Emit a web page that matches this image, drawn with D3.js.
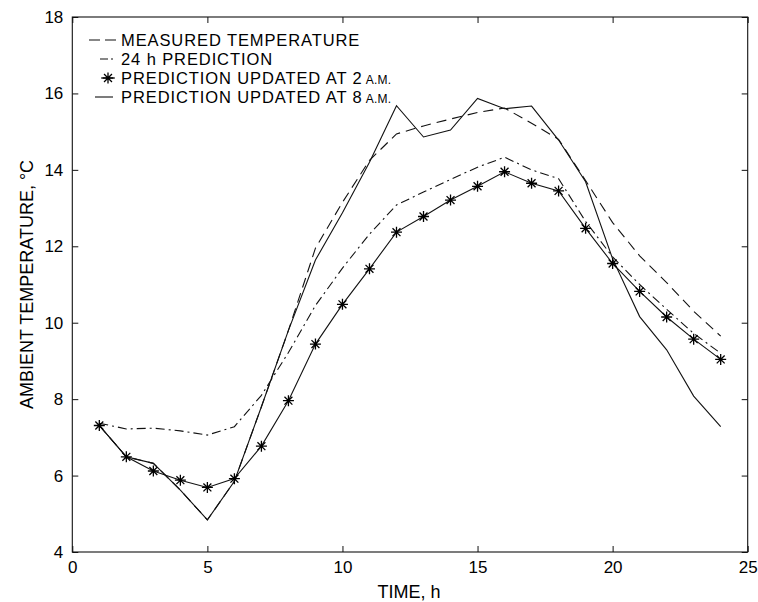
<!DOCTYPE html>
<html>
<head>
<meta charset="utf-8">
<script src="https://cdn.jsdelivr.net/npm/d3@7"></script>
<style>
  html, body { margin: 0; padding: 0; background: #fff; }
  svg { display: block; font-family: "Liberation Sans", Arial, Helvetica, sans-serif; }
</style>
</head>
<body>
<svg id="chart" width="758" height="602"></svg>
<script>
// ---- data ----
const hours = [1,2,3,4,5,6,7,8,9,10,11,12,13,14,15,16,17,18,19,20,21,22,23,24];
const measured = [7.31,6.49,6.32,5.62,4.84,5.85,7.8,9.8,11.95,13.15,14.25,14.94,15.15,15.33,15.5,15.62,15.22,14.8,13.72,12.62,11.75,11.05,10.3,9.65];
const pred24h = [7.37,7.22,7.24,7.17,7.06,7.28,8.1,9.22,10.45,11.43,12.32,13.08,13.42,13.75,14.07,14.33,14.0,13.77,12.65,11.72,11.0,10.35,9.72,9.2];
const upd2am = [7.31,6.49,6.12,5.88,5.69,5.92,6.77,7.96,9.44,10.48,11.41,12.37,12.78,13.21,13.57,13.95,13.65,13.45,12.47,11.55,10.82,10.15,9.57,9.04];
const upd8am = [7.31,6.49,6.32,5.62,4.84,5.85,7.8,9.8,11.64,12.88,14.2,15.68,14.86,15.04,15.87,15.6,15.67,14.78,13.69,11.67,10.16,9.29,8.08,7.28];
const xTicks = [0,5,10,15,20,25];
const yTicks = [4,6,8,10,12,14,16,18];
const legendLabels = ["MEASURED TEMPERATURE","24 h PREDICTION","PREDICTION UPDATED AT 2","PREDICTION UPDATED AT 8"];
const xTitle = "TIME, h";
const yTitle = "AMBIENT TEMPERATURE, °C";

// ---- layout ----
const svg = d3.select("#chart");
const L = 72.3, R = 747.7, T = 17, B = 552;
const x = d3.scaleLinear().domain([0,25]).range([L,R]);
const y = d3.scaleLinear().domain([4,18]).range([B,T]);
const ink = "#111";
const fs = 17;

// axes (ticks inside)
function styleAxis(g){
  g.select(".domain").remove();
  g.selectAll(".tick line").attr("stroke", ink).attr("stroke-width", 1);
  g.selectAll(".tick text").attr("fill", "#000").style("font-size", fs+"px")
   .style("font-family", '"Liberation Sans", Arial, sans-serif');
}
svg.append("g").attr("transform",`translate(0,${B})`)
  .call(d3.axisBottom(x).tickValues(xTicks).tickFormat(d3.format("d")).tickSizeInner(-6).tickSizeOuter(0).tickPadding(9))
  .call(styleAxis);
svg.append("g").attr("transform",`translate(0,${T})`)
  .call(d3.axisTop(x).tickValues(xTicks).tickFormat("").tickSizeInner(-6).tickSizeOuter(0))
  .call(styleAxis);
svg.append("g").attr("transform",`translate(${L},0)`)
  .call(d3.axisLeft(y).tickValues(yTicks).tickFormat(d3.format("d")).tickSizeInner(-6).tickSizeOuter(0).tickPadding(9))
  .call(styleAxis);
svg.append("g").attr("transform",`translate(${R},0)`)
  .call(d3.axisRight(y).tickValues(yTicks).tickFormat("").tickSizeInner(-6).tickSizeOuter(0))
  .call(styleAxis);

// frame
svg.append("rect").attr("x",L).attr("y",T).attr("width",R-L).attr("height",B-T)
  .attr("fill","none").attr("stroke",ink).attr("stroke-width",1.1);

// titles
svg.append("text").attr("x",409).attr("y",598).attr("text-anchor","middle")
  .style("font-size","18px").text(xTitle);
svg.append("text").attr("transform",`translate(33,${(T+B)/2}) rotate(-90)`).attr("text-anchor","middle")
  .style("font-size","18px").text(yTitle);

// lines
const line = d3.line().x((d,i)=>x(hours[i])).y(d=>y(d));
const series = [
  {vals: measured, dash: "10,6"},
  {vals: pred24h, dash: "9,4,2,4"},
  {vals: upd2am, dash: null},
  {vals: upd8am, dash: null}
];
series.forEach(s=>{
  svg.append("path").datum(s.vals).attr("d",line).attr("fill","none")
    .attr("stroke",ink).attr("stroke-width",1.1)
    .attr("stroke-dasharray",s.dash);
});

// asterisk markers
const r = 5.5, rd = r*0.72;
function star(cx, cy){
  return `M${cx-r},${cy}L${cx+r},${cy}M${cx},${cy-r}L${cx},${cy+r}`+
         `M${cx-rd},${cy-rd}L${cx+rd},${cy+rd}M${cx-rd},${cy+rd}L${cx+rd},${cy-rd}`;
}
svg.append("g").selectAll("path").data(upd2am).join("path")
  .attr("d",(d,i)=>star(x(hours[i]), y(d)))
  .attr("stroke","#000").attr("stroke-width",1.3).attr("fill","none");

// legend
const lg = svg.append("g");
const rowsY = [46,65,84,103];
const lfs = 16.5;
legendLabels.forEach((t,i)=>{
  const tx = lg.append("text").attr("x",121).attr("y",rowsY[i])
    .style("font-size",lfs+"px").style("letter-spacing","0.9px").text(t);
  if(i>=2){
    tx.append("tspan").style("font-size","12px").style("letter-spacing","0.3px").text(" A.M.");
  }
});
const cy = rowsY.map(v=>v-6);
lg.append("path").attr("d",`M89,${cy[0]}L116,${cy[0]}`).attr("stroke",ink).attr("stroke-width",1.1).attr("stroke-dasharray","11,5");
lg.append("path").attr("d",`M100,${cy[1]}L115,${cy[1]}`).attr("stroke",ink).attr("stroke-width",1.1).attr("stroke-dasharray","8,3,2,3");
lg.append("path").attr("d",`M101,${cy[2]}L115,${cy[2]}`).attr("stroke",ink).attr("stroke-width",1.1);
lg.append("path").attr("d",star(108,cy[2])).attr("stroke","#000").attr("stroke-width",1.3);
lg.append("path").attr("d",`M95,${cy[3]}L113,${cy[3]}`).attr("stroke",ink).attr("stroke-width",1.1);
</script>
</body>
</html>
